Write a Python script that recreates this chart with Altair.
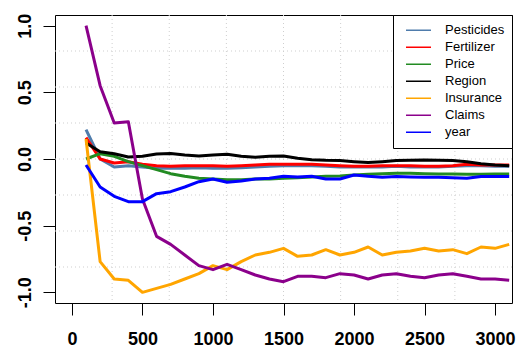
import altair as alt
import numpy as np
import pandas as pd

# ---- data ----
x_vals = [100, 200, 300, 400, 500, 600, 700, 800, 900, 1000,
          1100, 1200, 1300, 1400, 1500, 1600, 1700, 1800, 1900, 2000,
          2100, 2200, 2300, 2400, 2500, 2600, 2700, 2800, 2900, 3000, 3100]

pesticides = [0.22, 0.00, -0.06, -0.05, -0.06, -0.07, -0.07, -0.07, -0.065, -0.07,
              -0.07, -0.065, -0.06, -0.055, -0.05, -0.05, -0.05, -0.055, -0.06, -0.06,
              -0.06, -0.06, -0.055, -0.06, -0.06, -0.06, -0.055, -0.05, -0.05, -0.055, -0.055]
fertilizer = [0.16, 0.00, -0.03, -0.02, -0.04, -0.05, -0.055, -0.05, -0.05, -0.05,
              -0.055, -0.05, -0.045, -0.04, -0.04, -0.04, -0.04, -0.045, -0.05, -0.055,
              -0.055, -0.05, -0.05, -0.05, -0.055, -0.055, -0.05, -0.04, -0.045, -0.045, -0.045]
price = [0.00, 0.04, 0.02, -0.02, -0.05, -0.08, -0.11, -0.13, -0.145, -0.15,
         -0.155, -0.155, -0.15, -0.15, -0.145, -0.14, -0.135, -0.13, -0.127, -0.12,
         -0.115, -0.11, -0.107, -0.107, -0.11, -0.112, -0.112, -0.115, -0.115, -0.112, -0.112]
region = [0.12, 0.055, 0.04, 0.015, 0.02, 0.037, 0.042, 0.03, 0.022, 0.03,
          0.035, 0.02, 0.013, 0.02, 0.022, 0.005, -0.005, -0.01, -0.012, -0.02,
          -0.027, -0.02, -0.012, -0.01, -0.007, -0.01, -0.012, -0.02, -0.035, -0.045, -0.05]
insurance = [0.15, -0.77, -0.90, -0.91, -1.00, -0.97, -0.94, -0.90, -0.86, -0.80,
             -0.83, -0.77, -0.72, -0.70, -0.67, -0.73, -0.72, -0.68, -0.72, -0.70,
             -0.66, -0.72, -0.70, -0.69, -0.67, -0.69, -0.68, -0.71, -0.66, -0.67, -0.64]
claims = [1.00, 0.55, 0.27, 0.28, -0.30, -0.58, -0.64, -0.72, -0.80, -0.83,
          -0.79, -0.83, -0.87, -0.90, -0.92, -0.88, -0.88, -0.89, -0.86, -0.87,
          -0.90, -0.87, -0.86, -0.88, -0.89, -0.87, -0.86, -0.88, -0.90, -0.90, -0.91]
year = [-0.045, -0.21, -0.28, -0.32, -0.32, -0.26, -0.245, -0.21, -0.17, -0.15,
        -0.175, -0.165, -0.15, -0.145, -0.13, -0.135, -0.13, -0.15, -0.15, -0.12,
        -0.13, -0.137, -0.132, -0.135, -0.137, -0.137, -0.14, -0.145, -0.132, -0.132, -0.132]

series_names = ["Pesticides", "Fertilizer", "Price", "Region", "Insurance", "Claims", "year"]
series_vals = [pesticides, fertilizer, price, region, insurance, claims, year]
series_colors = ["#4F7CAC", "#FF0000", "#228B22", "#000000", "#FFA500", "#8B008B", "#0000FF"]

x_ticks = [0, 500, 1000, 1500, 2000, 2500, 3000]
y_ticks = [-1.0, -0.5, 0.0, 0.5, 1.0]

# axis limits as in R (xlim 0..3000, ylim -1..1, 4% expansion)
x_lim = [-120, 3120]
y_lim = [-1.08, 1.08]

rows = []
for name, vals in zip(series_names, series_vals):
    for xv, yv in zip(x_vals, vals):
        rows.append({"n": xv, "value": yv, "var": name})
df = pd.DataFrame(rows)

# grid(8, 8): equally spaced dotted lines
gx = pd.DataFrame({"n": list(np.linspace(x_lim[0], x_lim[1], 9)[1:-1])})
gy = pd.DataFrame({"value": list(np.linspace(y_lim[0], y_lim[1], 9)[1:-1])})

xscale = alt.Scale(domain=x_lim, nice=False, zero=False)
yscale = alt.Scale(domain=y_lim, nice=False, zero=False)

font = "Liberation Sans"

x_axis = alt.Axis(values=x_ticks, format="d", title=None, grid=False, domain=False,
                  tickSize=12, tickColor="black", tickWidth=1,
                  labelFont=font, labelFontSize=18, labelFontWeight="bold",
                  labelColor="black", labelPadding=15, labelFlush=False)
y_axis = alt.Axis(values=y_ticks, title=None, grid=False, domain=False,
                  labelExpr="(datum.value < 0 ? '-' : '') + format(abs(datum.value), '.1f')",
                  tickSize=12, tickColor="black", tickWidth=1,
                  labelAngle=270, labelAlign="center", labelBaseline="bottom",
                  labelFont=font, labelFontSize=18, labelFontWeight="bold",
                  labelColor="black", labelPadding=9)

grid_v = alt.Chart(gx).mark_rule(color="#CFCFCF", strokeWidth=1, strokeDash=[1, 3]).encode(
    x=alt.X("n:Q", scale=xscale, axis=x_axis)
)
grid_h = alt.Chart(gy).mark_rule(color="#CFCFCF", strokeWidth=1, strokeDash=[1, 3]).encode(
    y=alt.Y("value:Q", scale=yscale, axis=y_axis)
)

lines = alt.Chart(df).mark_line(strokeWidth=3, strokeJoin="round", clip=True).encode(
    x=alt.X("n:Q", scale=xscale, axis=x_axis),
    y=alt.Y("value:Q", scale=yscale, axis=y_axis),
    color=alt.Color("var:N",
                    scale=alt.Scale(domain=series_names, range=series_colors),
                    sort=series_names,
                    legend=alt.Legend(title=None, orient="top-right", offset=0,
                                      symbolType="stroke", symbolStrokeWidth=1.5,
                                      symbolSize=625, symbolOffset=5,
                                      clipHeight=16.4, rowPadding=0,
                                      labelFont=font, labelFontSize=13, labelColor="black",
                                      labelOffset=13, padding=7,
                                      strokeColor="black", fillColor="white",
                                      cornerRadius=0)),
    order=alt.Order("n:Q"),
    detail="var:N",
)

chart = alt.layer(grid_v, grid_h, lines).properties(
    width=457, height=288,
    autosize=alt.AutoSizeParams(type="none"),
    padding={"left": 55, "top": 15, "right": 8, "bottom": 44},
    background="white",
).configure_view(stroke="black", strokeWidth=1)

chart.save("out.html", embed_options={"renderer": "svg", "actions": False})
